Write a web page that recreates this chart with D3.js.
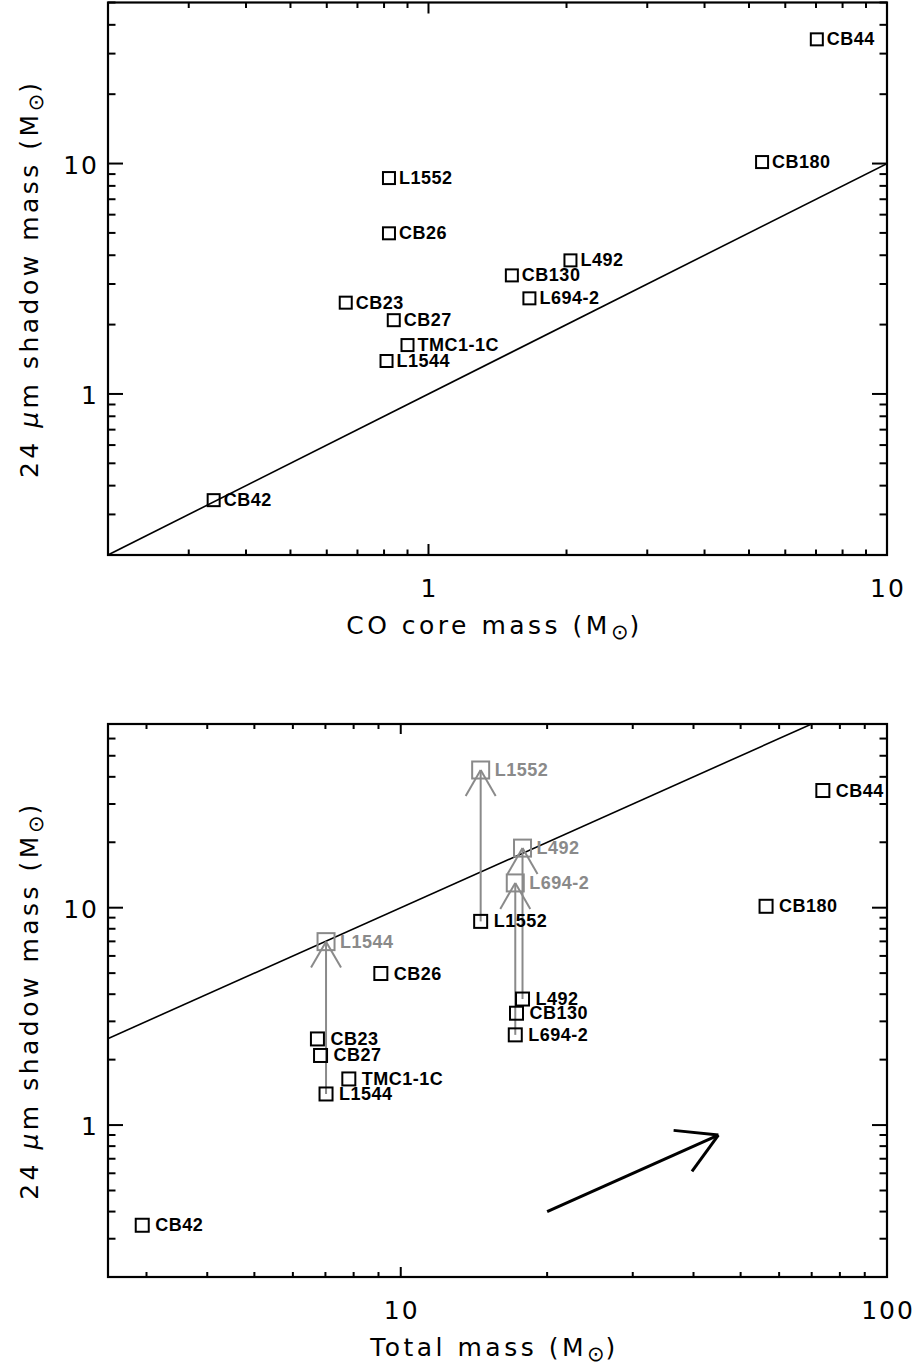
<!DOCTYPE html>
<html>
<head>
<meta charset="utf-8">
<script src="https://cdnjs.cloudflare.com/ajax/libs/d3/7.8.5/d3.min.js"></script>
<style>
  body { margin: 0; background: #fff; }
  svg { display: block; }
  .tick-label, .axis-title {
    font-family: "DejaVu Sans", sans-serif;
    font-size: 25px;
    fill: #000;
  }
  .tick-label { letter-spacing: 2px; }
  .axis-title { letter-spacing: 3.5px; }
  .core-label {
    font-family: "Liberation Sans", Arial, sans-serif;
    font-weight: bold;
    font-size: 18px;
    letter-spacing: 0.5px;
  }
</style>
</head>
<body>
<svg id="chart" width="920" height="1372"></svg>
<script>
// Cores (same order in every array)
var cores      = ["CB44", "CB180", "L492", "CB130", "L694-2", "L1552", "CB26", "CB23", "CB27", "TMC1-1C", "L1544", "CB42"];
var coMass     = [7.03, 5.34, 2.04, 1.52, 1.66, 0.82, 0.82, 0.66, 0.84, 0.90, 0.81, 0.34];
var totalMass  = [73.8, 56.4, 17.8, 17.3, 17.2, 14.6, 9.1, 6.74, 6.84, 7.82, 7.02, 2.94];
var shadowMass = [34.6, 10.15, 3.8, 3.27, 2.6, 8.65, 4.98, 2.49, 2.09, 1.63, 1.39, 0.346];

// Cores with a corrected shadow mass (grey, lower panel)
var corrCores      = ["L1544", "L1552", "L492", "L694-2"];
var corrShadowMass = [6.98, 43.0, 18.8, 13.0];

// The direction arrow in the lower panel (x, y in data units)
var arrowFrom = [20, 0.4];
var arrowTo   = [45, 0.9];

// Axis ranges and labelled ticks
var topXDomain = [0.2, 10],  topYDomain = [0.2, 50];
var botXDomain = [2.5, 100], botYDomain = [0.2, 70];
var topXTickLabels = [1, 10],  topYTickLabels = [1, 10];
var botXTickLabels = [10, 100], botYTickLabels = [1, 10];

var GREY = "#8a8a8a";
var svg = d3.select("#chart");

function isDecade(v) {
  var l = Math.log10(v);
  return Math.abs(l - Math.round(l)) < 1e-6;
}

// "(M" + subscript sun symbol + ")"
function solarUnit(t) {
  t.append("tspan").attr("font-size", "21px").attr("letter-spacing", "1px").attr("dy", 5).text("\u2299");
  t.append("tspan").attr("dy", -5).text(")");
}

function drawPanel(p) {
  var x = d3.scaleLog().domain(p.xDomain).range([p.left, p.right]);
  var y = d3.scaleLog().domain(p.yDomain).range([p.bottom, p.top]);
  var g = svg.append("g");

  var clipId = "clip" + p.id;
  svg.append("clipPath").attr("id", clipId)
    .append("rect")
    .attr("x", p.left).attr("y", p.top)
    .attr("width", p.right - p.left).attr("height", p.bottom - p.top);

  // ticks on all four sides, pointing inwards
  var ticks = g.append("g").attr("stroke", "#000").attr("stroke-width", 2);
  x.ticks().forEach(function(v) {
    var len = isDecade(v) ? p.xTick : p.xTick / 2;
    ticks.append("line").attr("x1", x(v)).attr("x2", x(v)).attr("y1", p.bottom).attr("y2", p.bottom - len);
    ticks.append("line").attr("x1", x(v)).attr("x2", x(v)).attr("y1", p.top).attr("y2", p.top + len);
  });
  y.ticks().forEach(function(v) {
    var len = isDecade(v) ? p.yTick : p.yTick / 2;
    ticks.append("line").attr("y1", y(v)).attr("y2", y(v)).attr("x1", p.left).attr("x2", p.left + len);
    ticks.append("line").attr("y1", y(v)).attr("y2", y(v)).attr("x1", p.right).attr("x2", p.right - len);
  });

  // frame
  g.append("rect")
    .attr("x", p.left).attr("y", p.top)
    .attr("width", p.right - p.left).attr("height", p.bottom - p.top)
    .attr("fill", "none").attr("stroke", "#000").attr("stroke-width", 2.2);

  // tick labels
  g.selectAll(".xl").data(p.xLabels).enter().append("text")
    .attr("class", "tick-label")
    .attr("x", function(d) { return x(d) + 1; })
    .attr("y", p.bottom + 42)
    .attr("text-anchor", "middle")
    .text(function(d) { return d; });
  g.selectAll(".yl").data(p.yLabels).enter().append("text")
    .attr("class", "tick-label")
    .attr("x", p.left - 9)
    .attr("y", function(d) { return y(d) + 10; })
    .attr("text-anchor", "end")
    .text(function(d) { return d; });

  // axis titles
  var xt = g.append("text").attr("class", "axis-title")
    .attr("x", (p.left + p.right) / 2 - 3).attr("y", p.bottom + 79)
    .attr("text-anchor", "middle");
  xt.append("tspan").text(p.xTitle + " (M");
  solarUnit(xt);

  var cy = (p.top + p.bottom) / 2;
  var yt = g.append("text").attr("class", "axis-title")
    .attr("letter-spacing", "4px")
    .attr("transform", "translate(38," + cy + ") rotate(-90)")
    .attr("text-anchor", "middle");
  yt.append("tspan").text("24 ");
  yt.append("tspan").attr("font-style", "italic").text("\u03bc");
  yt.append("tspan").text("m shadow mass (M");
  solarUnit(yt);

  // one-to-one line
  g.append("path")
    .attr("clip-path", "url(#" + clipId + ")")
    .attr("d", d3.line().x(function(d) { return x(d); }).y(function(d) { return y(d); })([0.1, 200]))
    .attr("fill", "none").attr("stroke", "#000").attr("stroke-width", 1.6);

  return { g: g, x: x, y: y };
}

function squares(g, xs, ys, names, size, colour, offset) {
  var pts = names.map(function(n, i) { return { name: n, x: xs[i], y: ys[i] }; });
  g.selectAll(null).data(pts).enter().append("rect")
    .attr("x", function(d) { return d.x - size / 2; })
    .attr("y", function(d) { return d.y - size / 2; })
    .attr("width", size).attr("height", size)
    .attr("fill", "none").attr("stroke", colour).attr("stroke-width", 2);
  g.selectAll(null).data(pts).enter().append("text")
    .attr("class", "core-label")
    .attr("x", function(d) { return d.x + offset; })
    .attr("y", function(d) { return d.y; })
    .attr("dominant-baseline", "central")
    .attr("fill", colour)
    .text(function(d) { return d.name; });
}

// open "V" arrow head at (x2, y2) pointing away from (x1, y1)
function arrowHead(g, x1, y1, x2, y2, len, colour, width) {
  var a = Math.atan2(y1 - y2, x1 - x2);
  [-Math.PI / 6, Math.PI / 6].forEach(function(da) {
    g.append("line")
      .attr("x1", x2).attr("y1", y2)
      .attr("x2", x2 + len * Math.cos(a + da)).attr("y2", y2 + len * Math.sin(a + da))
      .attr("stroke", colour).attr("stroke-width", width);
  });
}

// ---- upper panel: shadow mass against CO core mass
var upper = drawPanel({
  id: "upper", left: 108, right: 887, top: 2.5, bottom: 555,
  xDomain: topXDomain, yDomain: topYDomain,
  xLabels: topXTickLabels, yLabels: topYTickLabels,
  xTick: 11, yTick: 15, xTitle: "CO core mass"
});
squares(upper.g,
  coMass.map(function(v) { return upper.x(v); }),
  shadowMass.map(function(v) { return upper.y(v); }),
  cores, 12, "#000", 10);

// ---- lower panel: shadow mass against total mass
var lower = drawPanel({
  id: "lower", left: 108, right: 887, top: 724, bottom: 1277,
  xDomain: botXDomain, yDomain: botYDomain,
  xLabels: botXTickLabels, yLabels: botYTickLabels,
  xTick: 10, yTick: 15, xTitle: "Total mass"
});

// grey arrows from measured to corrected shadow mass
corrCores.forEach(function(n, i) {
  var k = cores.indexOf(n);
  var px = lower.x(totalMass[k]);
  var y1 = lower.y(shadowMass[k]), y2 = lower.y(corrShadowMass[i]);
  lower.g.append("line").attr("x1", px).attr("x2", px).attr("y1", y1).attr("y2", y2)
    .attr("stroke", GREY).attr("stroke-width", 2);
  arrowHead(lower.g, px, y1, px, y2, 30, GREY, 2);
});

squares(lower.g,
  corrCores.map(function(n) { return lower.x(totalMass[cores.indexOf(n)]); }),
  corrShadowMass.map(function(v) { return lower.y(v); }),
  corrCores, 17, GREY, 14);
squares(lower.g,
  totalMass.map(function(v) { return lower.x(v); }),
  shadowMass.map(function(v) { return lower.y(v); }),
  cores, 13, "#000", 13);

// direction arrow
var ax1 = lower.x(arrowFrom[0]), ay1 = lower.y(arrowFrom[1]);
var ax2 = lower.x(arrowTo[0]),   ay2 = lower.y(arrowTo[1]);
lower.g.append("line").attr("x1", ax1).attr("y1", ay1).attr("x2", ax2).attr("y2", ay2)
  .attr("stroke", "#000").attr("stroke-width", 3);
arrowHead(lower.g, ax1, ay1, ax2, ay2, 45, "#000", 3);
</script>
</body>
</html>
